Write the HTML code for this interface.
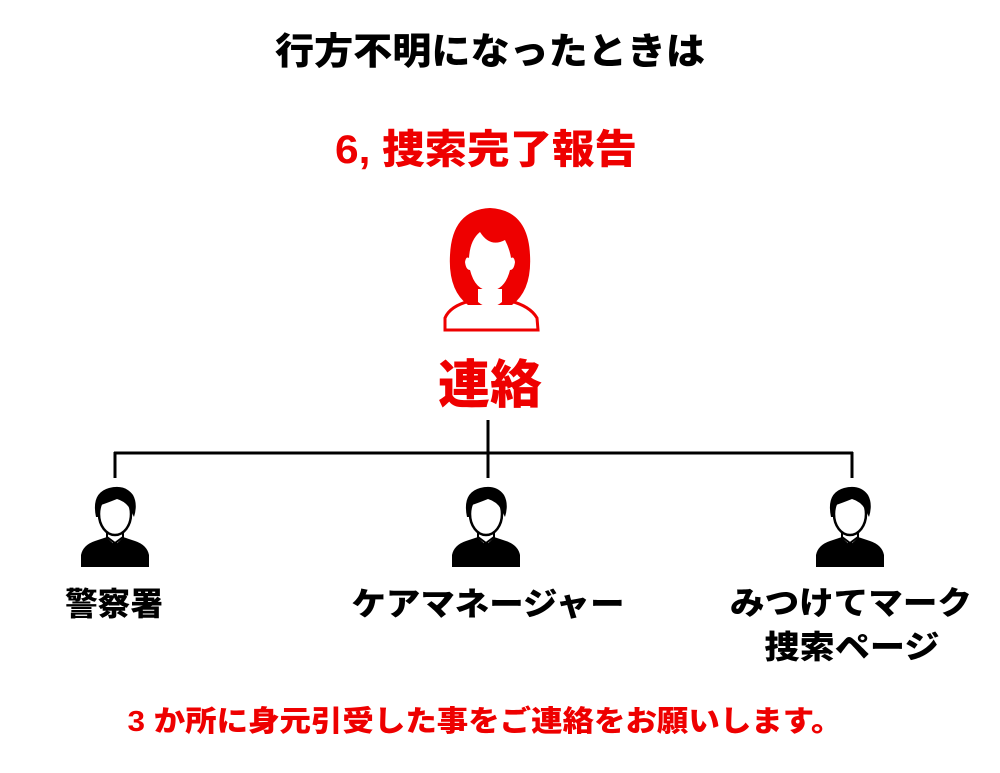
<!DOCTYPE html>
<html><head><meta charset="utf-8"><style>
body{margin:0;background:#fff;}
svg text{font-family:"Liberation Sans","Noto Sans CJK JP",sans-serif;font-weight:900;text-anchor:middle;}
</style></head><body>
<svg width="1000" height="768" viewBox="0 0 1000 768" xmlns="http://www.w3.org/2000/svg">
<defs>
<g id="man">
  <path d="M-34,80 L-34,68 Q-32,58 -20,54 L-8,50 L8,50 L20,54 Q32,58 34,68 L34,80 Z" fill="#000"/>
  <path d="M-9,50 L0,58 L9,50 L4,48 L-4,48 Z" fill="#fff"/>
  <path d="M-2,55 L2,55 L3,72 L0,76 L-3,72 Z" fill="#000"/>
  <path d="M-8,38 L-8,50 L0,56 L8,50 L8,38 Z" fill="#fff" stroke="#000" stroke-width="2"/>
  <ellipse cx="0" cy="27" rx="16" ry="21" fill="#fff" stroke="#000" stroke-width="2.5"/>
  <path d="M-19,30 Q-24,6 -6,1 Q10,-3 18,8 Q23,17 19,30 L16,24 Q12,15 2,12 Q-8,16 -14,18 L-16,30 Z" fill="#000"/>
</g>
</defs>

<text x="490" y="64" font-size="37" textLength="430" lengthAdjust="spacingAndGlyphs" fill="#000">行方不明になったときは</text>
<text x="486" y="163" font-size="40" textLength="302" lengthAdjust="spacingAndGlyphs" fill="#ee0000">6, 捜索完了報告</text>

<g>
  <path d="M445,330 L445,318 Q450,306 470,301 L510,301 Q530,306 537,318 L538,330 Z" fill="#fff" stroke="#ee0000" stroke-width="3"/>
  <path d="M490,208 Q452,210 450,255 Q448,290 468,305 L512,305 Q532,290 530,255 Q528,210 490,208 Z" fill="#ee0000"/>
  <path d="M478,289 L478,302 Q490,312 502,302 L502,289 Z" fill="#fff"/>
  <path d="M480,232 Q490,248 505,240 Q510,250 511,258 Q514,256 515,262 Q514,270 510,270 Q505,290 490,291 Q475,290 470,270 Q466,270 465,262 Q466,256 469,258 Q470,240 480,232 Z" fill="#fff"/>
</g>
<text x="490" y="403" font-size="52" fill="#ee0000">連絡</text>

<g stroke="#000" stroke-width="3" fill="none">
  <line x1="488" y1="420" x2="488" y2="478"/>
  <line x1="114" y1="453" x2="853" y2="453"/>
  <line x1="115" y1="452" x2="115" y2="478"/>
  <line x1="852" y1="452" x2="852" y2="478"/>
</g>

<use href="#man" x="115" y="487"/>
<use href="#man" x="486" y="487"/>
<use href="#man" x="850" y="487"/>

<text x="114" y="615" font-size="32" textLength="98" lengthAdjust="spacingAndGlyphs" fill="#000">警察署</text>
<text x="488" y="615" font-size="32" textLength="273" lengthAdjust="spacingAndGlyphs" fill="#000">ケアマネージャー</text>
<text x="851" y="614" font-size="32" textLength="242" lengthAdjust="spacingAndGlyphs" fill="#000">みつけてマーク</text>
<text x="852" y="658" font-size="32" textLength="175" lengthAdjust="spacingAndGlyphs" fill="#000">捜索ページ</text>

<text x="485" y="731" font-size="29" textLength="715" lengthAdjust="spacingAndGlyphs" fill="#ee0000">3 か所に身元引受した事をご連絡をお願いします。</text>
</svg>
</body></html>
